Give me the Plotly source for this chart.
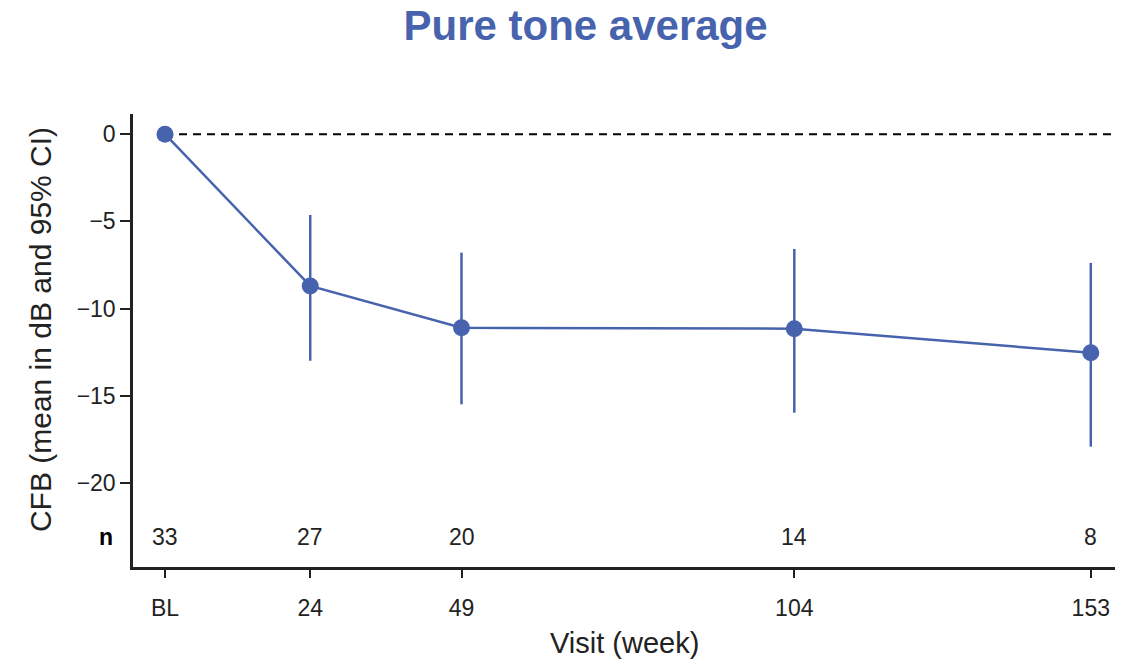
import plotly.graph_objects as go

weeks = [0, 24, 49, 104, 153]
week_labels = ["BL", "24", "49", "104", "153"]
mean_cfb = [0.0, -8.7, -11.1, -11.15, -12.53]
ci_upper = [0.0, -4.63, -6.79, -6.58, -7.38]
ci_lower = [0.0, -12.99, -15.49, -15.97, -17.92]
n_counts = [33, 27, 20, 14, 8]
y_ticks = [0, -5, -10, -15, -20]

BLUE = "#4763ad"
DARK = "#222222"
FONT = "Liberation Sans, Arial, sans-serif"

err_plus = [u - m for u, m in zip(ci_upper, mean_cfb)]
err_minus = [m - l for m, l in zip(mean_cfb, ci_lower)]
show_err = [i > 0 for i in range(len(weeks))]
err_plus = [e if s else None for e, s in zip(err_plus, show_err)]
err_minus = [e if s else None for e, s in zip(err_minus, show_err)]

fig = go.Figure()

# reference line at 0
fig.add_trace(go.Scatter(
    x=[weeks[0], 157], y=[0, 0], mode="lines",
    line=dict(color="black", width=2, dash="8px,6px"),
    hoverinfo="skip", showlegend=False,
))

fig.add_trace(go.Scatter(
    x=weeks, y=mean_cfb, mode="lines+markers",
    line=dict(color=BLUE, width=2.5),
    marker=dict(color=BLUE, size=17),
    error_y=dict(type="data", symmetric=False, array=err_plus, arrayminus=err_minus,
                 color=BLUE, thickness=2.5, width=0),
    showlegend=False,
))

# n row
for w, n in zip(weeks, n_counts):
    fig.add_annotation(x=w, y=-23.1, text=str(n), showarrow=False,
                       font=dict(family=FONT, size=23, color=DARK),
                       xanchor="center", yanchor="middle")
fig.add_annotation(xref="paper", x=-0.018, y=-23.1, text="<b>n</b>", showarrow=False,
                   font=dict(family=FONT, size=23, color="black"),
                   xanchor="right", yanchor="middle")

# y-axis title
fig.add_annotation(xref="paper", yref="paper", x=-0.0947, y=0.523,
                   text="CFB (mean in dB and 95% CI)", textangle=-90, showarrow=False,
                   font=dict(family=FONT, size=30, color=DARK),
                   xanchor="center", yanchor="middle")

# x-axis title
fig.add_annotation(xref="paper", yref="paper", x=0.5, y=-0.168,
                   text="Visit (week)", showarrow=False,
                   font=dict(family=FONT, size=29, color=DARK),
                   xanchor="center", yanchor="middle")

fig.update_layout(
    width=1137, height=661,
    margin=dict(l=133, r=22, t=114, b=94),
    paper_bgcolor="white", plot_bgcolor="white",
    title=dict(text="<b>Pure tone average</b>", x=0.515, xanchor="center",
               y=0.962, yanchor="middle",
               font=dict(family=FONT, size=42, color=BLUE)),
    xaxis=dict(
        range=[-5.29, 157], tickmode="array", tickvals=weeks, ticktext=week_labels,
        showline=True, linecolor=DARK, linewidth=2.5, ticks="outside", ticklen=8,
        tickwidth=2, tickcolor=DARK, showgrid=False, zeroline=False,
        ticklabelstandoff=11,
        tickfont=dict(family=FONT, size=23, color=DARK),
    ),
    yaxis=dict(
        range=[-24.82, 1.16], tickmode="array", tickvals=y_ticks,
        ticktext=["0", "\u22125", "\u221210", "\u221215", "\u221220"],
        showline=True, linecolor=DARK, linewidth=2.5, ticks="outside", ticklen=10,
        tickwidth=2, tickcolor=DARK, showgrid=False, zeroline=False,
        tickfont=dict(family=FONT, size=23, color=DARK),
    ),
)

fig.write_html("out.html")
